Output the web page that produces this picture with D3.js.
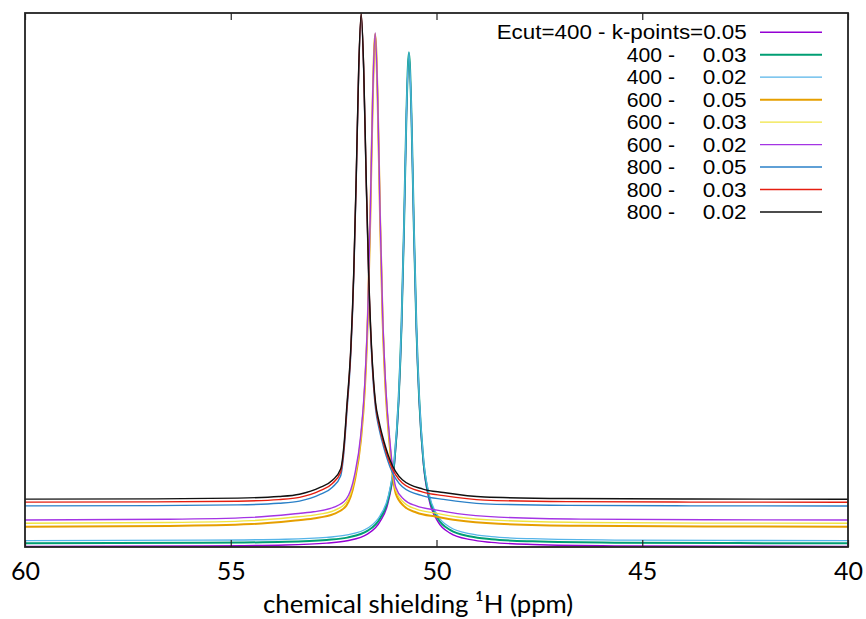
<!DOCTYPE html>
<html>
<head>
<meta charset="utf-8">
<script src="https://cdn.jsdelivr.net/npm/d3@7"></script>
<style>
  html, body { margin: 0; padding: 0; background: #fff; }
  svg { display: block; }
</style>
</head>
<body>
<svg id="chart" width="866" height="619"></svg>
<script>
// x positions (ppm) for each Ecut group, dense around each peak
const ppm800 = [60, 56.83, 54.83, 53.83, 53.33, 52.83, 52.53, 52.33, 52.25, 52.18, 52.08, 52.01, 51.95, 51.89, 51.83, 51.77, 51.71, 51.65, 51.58, 51.53, 51.48, 51.40, 51.33, 51.13, 50.83, 50.33, 49.83, 48.83, 46.83, 43.83, 40];
const ppm600 = [60, 56.49, 54.49, 53.49, 52.99, 52.49, 52.19, 51.99, 51.84, 51.74, 51.67, 51.61, 51.55, 51.49, 51.43, 51.37, 51.31, 51.24, 51.14, 50.99, 50.79, 50.49, 49.99, 49.49, 48.49, 46.49, 43.49, 40];
const ppm400 = [60, 55.67, 53.67, 52.67, 52.17, 51.67, 51.37, 51.17, 51.02, 50.92, 50.85, 50.79, 50.73, 50.67, 50.61, 50.55, 50.49, 50.42, 50.32, 50.17, 49.97, 49.67, 49.17, 48.67, 47.67, 45.67, 42.67, 40];

// intensities (arbitrary units, 0-100)
const e400k005 = [0.12, 0.2, 0.37, 0.72, 1.17, 2.47, 4.8, 8.5, 15.7, 27.1, 41.0, 59.3, 80.9, 92.4, 80.9, 59.3, 41.0, 27.1, 15.7, 8.5, 4.8, 2.6, 1.37, 0.87, 0.47, 0.22, 0.14, 0.12];
const e400k003 = [0.71, 0.79, 0.96, 1.31, 1.76, 3.06, 5.4, 9.1, 16.3, 27.7, 41.6, 59.8, 81.3, 92.6, 81.3, 59.8, 41.6, 27.7, 16.3, 9.1, 5.4, 3.2, 1.96, 1.46, 1.06, 0.81, 0.73, 0.71];
const e400k002 = [1.2, 1.28, 1.45, 1.8, 2.25, 3.55, 5.9, 9.6, 16.8, 28.2, 42.1, 60.2, 81.6, 92.7, 81.6, 60.2, 42.1, 28.2, 16.8, 9.6, 5.9, 3.7, 2.45, 1.95, 1.55, 1.3, 1.22, 1.2];
const e600k005 = [3.81, 3.94, 4.29, 4.92, 5.34, 6.19, 7.76, 12.3, 19.8, 29.8, 42.8, 61.2, 83.7, 96.0, 83.7, 61.2, 42.8, 29.8, 19.3, 10.0, 7.66, 6.46, 5.66, 4.99, 4.34, 3.96, 3.84, 3.81];
const e600k003 = [4.45, 4.58, 4.93, 5.56, 5.98, 6.83, 8.4, 12.9, 20.4, 30.4, 43.4, 61.7, 84.1, 96.2, 84.1, 61.7, 43.4, 30.4, 19.9, 10.6, 8.3, 7.1, 6.3, 5.63, 4.98, 4.6, 4.48, 4.45];
const e600k002 = [5.07, 5.2, 5.55, 6.18, 6.6, 7.45, 9.0, 13.5, 21, 31, 43.9, 62.1, 84.4, 96.3, 84.4, 62.1, 43.9, 31, 20.5, 11.2, 8.9, 7.7, 6.9, 6.25, 5.6, 5.22, 5.1, 5.07];
const e800k005 = [7.70, 7.75, 7.88, 8.18, 8.6, 9.85, 11.2, 13.3, 17.7, 25.0, 36.5, 50.7, 68.8, 89.2, 99.5, 89.2, 68.8, 50.7, 36.5, 30.0, 25.8, 22.3, 20.0, 15.0, 11.3, 9.58, 8.92, 8.08, 7.8, 7.71, 7.68];
const e800k003 = [8.40, 8.45, 8.58, 8.88, 9.3, 10.55, 11.9, 14.0, 18.4, 25.7, 37.2, 51.3, 69.3, 89.6, 99.8, 89.6, 69.3, 51.3, 37.2, 30.7, 26.5, 23.0, 20.7, 15.7, 12.0, 10.28, 9.62, 8.78, 8.5, 8.41, 8.38];
const e800k002 = [8.97, 9.02, 9.16, 9.45, 9.88, 11.15, 12.5, 14.6, 19.0, 26.3, 37.7, 51.8, 69.7, 89.9, 100, 89.9, 69.7, 51.8, 37.7, 31.3, 27.0, 23.6, 21.3, 16.3, 12.6, 10.85, 10.2, 9.35, 9.08, 8.98, 8.95];

const ecutLabels = ["400", "400", "400", "600", "600", "600", "800", "800", "800"];
const kpointLabels = ["0.05", "0.03", "0.02", "0.05", "0.03", "0.02", "0.05", "0.03", "0.02"];
const colors = ["#9400d3", "#009e73", "#56b4e9", "#e69f00", "#f0e442", "#a434e4", "#2a80c8", "#e51e10", "#111111"];
const widths = [1.4, 2, 1.3, 2, 1.4, 1.4, 1.4, 1.4, 1.4];
const xTicks = [60, 55, 50, 45, 40];

const xValues = [ppm400, ppm400, ppm400, ppm600, ppm600, ppm600, ppm800, ppm800, ppm800];
const yValues = [e400k005, e400k003, e400k002, e600k005, e600k003, e600k002, e800k005, e800k003, e800k002];

const series = yValues.map((ys, i) => ({
    color: colors[i],
    width: widths[i],
    points: ys.map((v, j) => [xValues[i][j], v])
}));

const plotLeft = 25, plotRight = 848, plotTop = 13, plotBottom = 547;

const svg = d3.select('#chart');

const x = d3.scaleLinear().domain([60, 40]).range([plotLeft, plotRight]);
const y = d3.scaleLinear().domain([0, 100]).range([plotBottom, plotTop]);

svg.append('defs').append('clipPath')
    .attr('id', 'plotClip')
    .append('rect')
    .attr('x', plotLeft)
    .attr('y', plotTop)
    .attr('width', plotRight - plotLeft)
    .attr('height', plotBottom - plotTop);

const line = d3.line()
    .x(d => x(d[0]))
    .y(d => y(d[1]))
    .curve(d3.curveMonotoneX);

// curves
const plot = svg.append('g').attr('clip-path', 'url(#plotClip)');
series.forEach(s => {
    plot.append('path')
        .attr('d', line(s.points))
        .attr('fill', 'none')
        .attr('stroke', s.color)
        .attr('stroke-width', s.width)
        .attr('stroke-linejoin', 'round');
});

// bottom axis with inward ticks
const xAxis = svg.append('g')
    .attr('transform', `translate(0,${plotBottom})`)
    .call(d3.axisBottom(x).tickValues(xTicks).tickSizeInner(-7).tickSizeOuter(0).tickPadding(15));
xAxis.select('.domain').remove();
xAxis.selectAll('.tick line').attr('stroke', '#222').attr('stroke-width', 1.2);
xAxis.selectAll('.tick text')
    .attr('font-family', 'Lato, "Open Sans", sans-serif')
    .attr('font-size', '25px')
    .attr('fill', '#000');

// top mirror ticks
const xAxisTop = svg.append('g')
    .attr('transform', `translate(0,${plotTop})`)
    .call(d3.axisTop(x).tickValues(xTicks).tickSizeInner(-7).tickSizeOuter(0).tickFormat(''));
xAxisTop.select('.domain').remove();
xAxisTop.selectAll('.tick line').attr('stroke', '#222').attr('stroke-width', 1.2);

// frame
svg.append('rect')
    .attr('x', plotLeft)
    .attr('y', plotTop)
    .attr('width', plotRight - plotLeft)
    .attr('height', plotBottom - plotTop)
    .attr('fill', 'none')
    .attr('stroke', '#222')
    .attr('stroke-width', 1.8);

// x axis title
svg.append('text')
    .attr('x', 263)
    .attr('y', 613)
    .attr('font-family', 'Lato, "Open Sans", sans-serif')
    .attr('font-size', '25.8px')
    .attr('fill', '#000')
    .text('chemical shielding \u00B9H (ppm)');

// legend (text slightly stretched horizontally like the original)
const legendRight = 746.7;
const legendY0 = 32.3;
const legendStep = 22.46;
const legend = svg.append('g')
    .attr('font-family', '"Liberation Sans", Arial, sans-serif')
    .attr('font-size', '19.5px')
    .attr('fill', '#000');

ecutLabels.forEach((e, i) => {
    const cy = legendY0 + i * legendStep;
    if (i === 0) {
        legend.append('text')
            .attr('x', legendRight - 250)
            .attr('y', cy + 7)
            .attr('textLength', 250)
            .attr('lengthAdjust', 'spacingAndGlyphs')
            .text(`Ecut=${e} - k-points=${kpointLabels[i]}`);
    } else {
        legend.append('text')
            .attr('x', 626.7)
            .attr('y', cy + 7)
            .attr('textLength', 48.3)
            .attr('lengthAdjust', 'spacingAndGlyphs')
            .text(`${e} -`);
        legend.append('text')
            .attr('x', legendRight - 44)
            .attr('y', cy + 7)
            .attr('textLength', 44)
            .attr('lengthAdjust', 'spacingAndGlyphs')
            .text(kpointLabels[i]);
    }
    legend.append('line')
        .attr('x1', 760)
        .attr('x2', 822)
        .attr('y1', cy)
        .attr('y2', cy)
        .attr('stroke', colors[i])
        .attr('stroke-width', widths[i]);
});
</script>
</body>
</html>
